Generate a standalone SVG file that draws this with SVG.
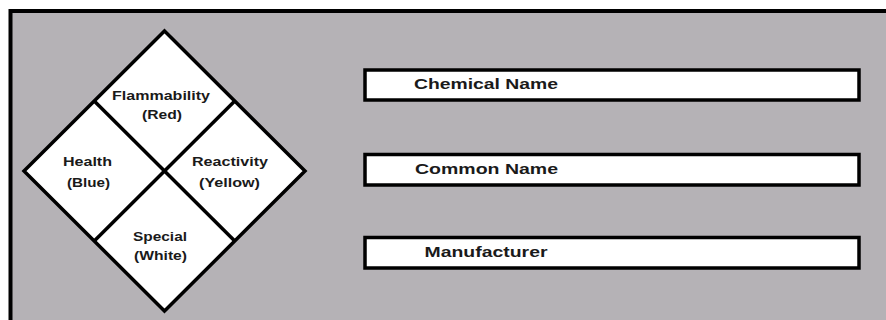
<svg xmlns="http://www.w3.org/2000/svg" width="886" height="320" viewBox="0 0 886 320">
<style>
.bg{fill:#b5b2b6;stroke:#000;stroke-width:4}
.shape{fill:#fff;stroke:#000;stroke-width:3.5;stroke-linejoin:miter}
.line{stroke:#000;stroke-width:3.5;fill:none}
.box{fill:#fff;stroke:#000;stroke-width:3.5}
.t{font-family:"Liberation Sans",Arial,sans-serif;font-weight:bold;fill:#1a1a1a}
.s{font-size:12px;text-anchor:middle}
.b{font-size:15px}
</style>
<rect width="886" height="320" fill="#fff"/>
<rect class="bg" x="10.5" y="11" width="900" height="330"/>
<g id="diamond">
<polygon class="shape" points="164.5,31 305,171 164.5,311 24,171"/>
<g id="dividers">
<line class="line" x1="94.25" y1="101" x2="234.75" y2="241"/>
<line class="line" x1="234.75" y1="101" x2="94.25" y2="241"/>
</g>
</g>
<g id="flammability">
<text class="t s" x="161" y="100" textLength="98" lengthAdjust="spacingAndGlyphs">Flammability</text>
<text class="t s" x="162" y="119" textLength="40" lengthAdjust="spacingAndGlyphs">(Red)</text>
</g>
<g id="health">
<text class="t s" x="87.5" y="166" textLength="49" lengthAdjust="spacingAndGlyphs">Health</text>
<text class="t s" x="88.5" y="187" textLength="43" lengthAdjust="spacingAndGlyphs">(Blue)</text>
</g>
<g id="reactivity">
<text class="t s" x="230" y="166" textLength="76" lengthAdjust="spacingAndGlyphs">Reactivity</text>
<text class="t s" x="229.5" y="187" textLength="61" lengthAdjust="spacingAndGlyphs">(Yellow)</text>
</g>
<g id="special">
<text class="t s" x="160" y="241" textLength="54" lengthAdjust="spacingAndGlyphs">Special</text>
<text class="t s" x="160.5" y="260" textLength="53" lengthAdjust="spacingAndGlyphs">(White)</text>
</g>
<g id="chemical-name">
<rect class="box" x="365" y="70" width="494" height="30"/>
<text class="t b" x="414" y="89" textLength="144" lengthAdjust="spacingAndGlyphs">Chemical Name</text>
</g>
<g id="common-name">
<rect class="box" x="365" y="154.5" width="494" height="30.5"/>
<text class="t b" x="415" y="173.5" textLength="143" lengthAdjust="spacingAndGlyphs">Common Name</text>
</g>
<g id="manufacturer">
<rect class="box" x="365" y="237.5" width="494" height="30.5"/>
<text class="t b" x="424.5" y="256.5" textLength="123" lengthAdjust="spacingAndGlyphs">Manufacturer</text>
</g>
</svg>
